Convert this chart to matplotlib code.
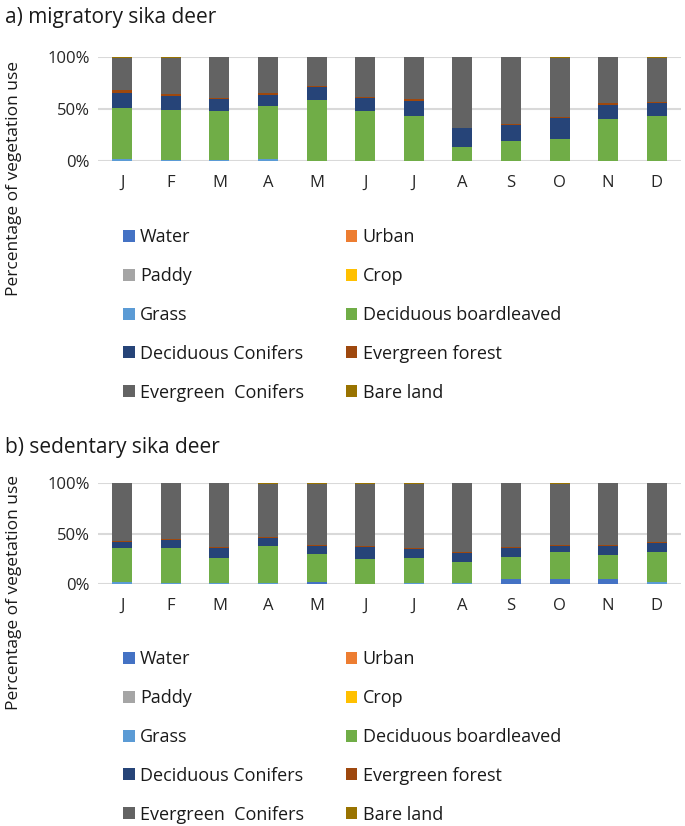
import matplotlib
matplotlib.use("Agg")
import matplotlib.pyplot as plt
import numpy as np

months = ["J", "F", "M", "A", "M", "J", "J", "A", "S", "O", "N", "D"]
categories = ["Water", "Urban", "Paddy", "Crop", "Grass", "Deciduous boardleaved",
              "Deciduous Conifers", "Evergreen forest", "Evergreen  Conifers", "Bare land"]
colors = ["#4472C4", "#ED7D31", "#A5A5A5", "#FFC000", "#5B9BD5", "#70AD47",
          "#264478", "#9E480E", "#636363", "#997300"]

# a) migratory sika deer (percent)
mig_water = [0, 0, 0, 0, 0, 0, 0, 0, 0, 0, 0, 0]
mig_urban = [0, 0, 0, 0, 0, 0, 0, 0, 0, 0, 0, 0]
mig_paddy = [0, 0, 0, 0, 0, 0, 0, 0, 0, 0, 0, 0]
mig_crop = [0, 0, 0, 0, 0, 0, 0, 0, 0, 0, 0, 0]
mig_grass = [1.6, 1.0, 1.0, 1.9, 0, 0, 0, 0, 0, 0, 0, 0]
mig_decid_broad = [49.8, 48.2, 47.6, 50.8, 58.5, 48.6, 43.7, 13.2, 19.6, 20.9, 40.5, 43.1]
mig_decid_conif = [14.5, 13.2, 11.5, 11.3, 12.9, 11.9, 14.2, 18.6, 14.8, 20.6, 13.8, 12.5]
mig_ever_forest = [2.9, 1.9, 0.7, 1.3, 0.9, 0.9, 1.9, 0.4, 1.0, 0.9, 2.0, 1.3]
mig_ever_conif = [30.4, 34.9, 39.2, 34.7, 27.7, 38.6, 40.2, 67.8, 64.6, 57.3, 43.7, 42.8]
mig_bare = [0.8, 0.8, 0, 0, 0, 0, 0, 0, 0, 0.3, 0, 0.3]

# b) sedentary sika deer (percent)
sed_water = [0, 0, 0, 0, 1.6, 0, 0, 0, 5.0, 5.0, 5.3, 0]
sed_urban = [0, 0, 0, 0, 0, 0, 0, 0, 0, 0, 0, 0]
sed_paddy = [0, 0, 0, 0, 0, 0, 0, 0, 0, 0, 0, 0]
sed_crop = [0, 0, 0, 0, 0, 0, 0, 0, 0, 0, 0, 0]
sed_grass = [1.5, 0.7, 0.7, 1.3, 0, 0, 0.7, 0.7, 0, 0, 0, 1.6]
sed_decid_broad = [33.9, 35.1, 24.8, 36.1, 27.9, 24.8, 24.8, 21.2, 21.8, 26.5, 23.5, 30.5]
sed_decid_conif = [6.3, 8.2, 10.6, 8.6, 8.2, 12.3, 9.6, 8.9, 9.0, 6.5, 8.6, 8.6]
sed_ever_forest = [1.0, 1.0, 1.0, 1.0, 1.0, 0.3, 1.0, 1.0, 1.0, 1.0, 1.0, 1.0]
sed_ever_conif = [57.3, 55.0, 62.9, 52.5, 60.8, 62.3, 63.6, 68.2, 63.2, 60.7, 61.6, 58.3]
sed_bare = [0, 0, 0, 0.5, 0.5, 0.3, 0.3, 0, 0, 0.3, 0, 0]

panels = [
    ("a) migratory sika deer",
     [mig_water, mig_urban, mig_paddy, mig_crop, mig_grass, mig_decid_broad,
      mig_decid_conif, mig_ever_forest, mig_ever_conif, mig_bare]),
    ("b) sedentary sika deer",
     [sed_water, sed_urban, sed_paddy, sed_crop, sed_grass, sed_decid_broad,
      sed_decid_conif, sed_ever_forest, sed_ever_conif, sed_bare]),
]

plt.rcParams['font.family'] = ['Open Sans', 'DejaVu Sans']

W, H = 685, 826
fig = plt.figure(figsize=(W / 100, H / 100), dpi=100)

def fy(py):
    return 1 - py / H

axes_px = [(57.3, 161.0), (483.3, 584.0)]  # top(100%), bottom(0%)
title_px = [17, 447]
ylabel_px = [178, 592]
legend_top_px = [228.5, 650.5]

x = np.arange(len(months))
for k, ((title, series), (ytop, ybot)) in enumerate(zip(panels, axes_px)):
    ax = fig.add_axes([98 / W, fy(ybot), 583 / W, (ybot - ytop) / H])
    bottom = np.zeros(len(months))
    handles = []
    for name, vals, col in zip(categories, series, colors):
        v = np.array(vals, dtype=float)
        b = ax.bar(x, v, bottom=bottom, width=0.41, color=col, label=name,
                   edgecolor='none', zorder=3)
        handles.append(b)
        bottom += v
    ax.set_xlim(-0.5, len(months) - 0.5)
    ax.set_ylim(0, 100)
    ax.set_yticks([0, 50, 100])
    ax.set_yticklabels(["0%", "50%", "100%"])
    ax.set_xticks(x)
    ax.set_xticklabels(months)
    ax.tick_params(axis='both', length=0, colors='#262626')
    ax.tick_params(axis='y', pad=6, labelsize=12)
    ax.tick_params(axis='x', pad=10, labelsize=12)
    for s in ax.spines.values():
        s.set_visible(False)
    ax.yaxis.grid(True, color='#D9D9D9', linewidth=1.5, zorder=0)
    ax.set_axisbelow(True)

    fig.text(5 / W, fy(title_px[k]), title, fontsize=15, va='center', ha='left',
             color='#1a1a1a')
    fig.text(14 / W, fy(ylabel_px[k]), "Percentage of vegetation use", rotation=90,
             fontsize=12.5, va='center', ha='center', color='#1a1a1a')

    order = [0, 2, 4, 6, 8, 1, 3, 5, 7, 9]
    leg = fig.legend([handles[i] for i in order], [categories[i] for i in order],
                     loc='upper left', bbox_to_anchor=(123 / W, fy(legend_top_px[k])),
                     ncol=2, frameon=False, fontsize=13, borderpad=0,
                     handlelength=0.65, handleheight=0.65, handletextpad=0.3,
                     labelspacing=1.15, columnspacing=2.3, borderaxespad=0)
    for t in leg.get_texts():
        t.set_color('#1a1a1a')

fig.savefig("out.png", dpi=100)
